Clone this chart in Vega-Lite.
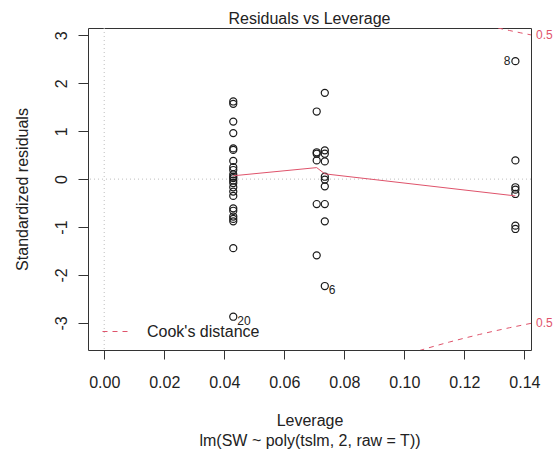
{
  "$schema": "https://vega.github.io/schema/vega-lite/v6.json",
  "autosize": {"type": "none"},
  "padding": {"left": 88, "top": 28, "right": 28, "bottom": 102},
  "width": 443,
  "height": 322,
  "background": "white",
  "title": {"text": "Residuals vs Leverage", "fontSize": 16, "fontWeight": "normal", "font": "Liberation Sans", "color": "#222222", "baseline": "alphabetic", "offset": 6, "dy": 18, "anchor": "middle", "frame": "group"},
  "config": {
    "view": {"stroke": "#333333", "strokeWidth": 1},
    "font": "Liberation Sans"
  },
  "datasets": {
    "pts": [
      {"lev": 0.0430, "res": 1.62}, {"lev": 0.0430, "res": 1.57}, {"lev": 0.0430, "res": 1.20}, {"lev": 0.0430, "res": 0.96},
      {"lev": 0.0430, "res": 0.64}, {"lev": 0.0430, "res": 0.61}, {"lev": 0.0430, "res": 0.38}, {"lev": 0.0430, "res": 0.25},
      {"lev": 0.0430, "res": 0.19}, {"lev": 0.0430, "res": 0.10}, {"lev": 0.0430, "res": 0.05}, {"lev": 0.0430, "res": 0.02},
      {"lev": 0.0430, "res": -0.03}, {"lev": 0.0430, "res": -0.08}, {"lev": 0.0430, "res": -0.17}, {"lev": 0.0430, "res": -0.26},
      {"lev": 0.0430, "res": -0.35}, {"lev": 0.0430, "res": -0.61}, {"lev": 0.0430, "res": -0.66}, {"lev": 0.0430, "res": -0.78},
      {"lev": 0.0430, "res": -0.83}, {"lev": 0.0430, "res": -0.88}, {"lev": 0.0430, "res": -1.44}, {"lev": 0.0430, "res": -2.87, "lab": "20", "side": "right"},
      {"lev": 0.0708, "res": 1.41}, {"lev": 0.0708, "res": 0.56}, {"lev": 0.0708, "res": 0.53}, {"lev": 0.0708, "res": 0.39},
      {"lev": 0.0708, "res": -0.52}, {"lev": 0.0708, "res": -1.59},
      {"lev": 0.0735, "res": 1.80}, {"lev": 0.0735, "res": 0.60}, {"lev": 0.0735, "res": 0.53}, {"lev": 0.0735, "res": 0.37},
      {"lev": 0.0735, "res": 0.05}, {"lev": 0.0735, "res": -0.01}, {"lev": 0.0735, "res": -0.15}, {"lev": 0.0735, "res": -0.52},
      {"lev": 0.0735, "res": -0.88}, {"lev": 0.0735, "res": -2.23, "lab": "6", "side": "right"},
      {"lev": 0.1370, "res": 2.46, "lab": "8", "side": "left"}, {"lev": 0.1370, "res": 0.39}, {"lev": 0.1370, "res": -0.17},
      {"lev": 0.1370, "res": -0.22}, {"lev": 0.1370, "res": -0.31}, {"lev": 0.1370, "res": -0.97}, {"lev": 0.1370, "res": -1.04}
    ],
    "smooth": [
      {"lev": 0.0430, "res": 0.07}, {"lev": 0.0708, "res": 0.24}, {"lev": 0.0735, "res": 0.11}, {"lev": 0.1370, "res": -0.35}
    ],
    "cook": [
      {"series": "Cook's distance", "branch": "upper", "lev": 0.128, "res": 3.197},
      {"series": "Cook's distance", "branch": "upper", "lev": 0.1306, "res": 3.160},
      {"series": "Cook's distance", "branch": "upper", "lev": 0.135, "res": 3.100},
      {"series": "Cook's distance", "branch": "upper", "lev": 0.1386, "res": 3.053},
      {"series": "Cook's distance", "branch": "upper", "lev": 0.1422, "res": 3.008},
      {"series": "Cook's distance", "branch": "lower", "lev": 0.105, "res": -3.576},
      {"series": "Cook's distance", "branch": "lower", "lev": 0.110, "res": -3.484},
      {"series": "Cook's distance", "branch": "lower", "lev": 0.115, "res": -3.398},
      {"series": "Cook's distance", "branch": "lower", "lev": 0.120, "res": -3.317},
      {"series": "Cook's distance", "branch": "lower", "lev": 0.125, "res": -3.240},
      {"series": "Cook's distance", "branch": "lower", "lev": 0.130, "res": -3.168},
      {"series": "Cook's distance", "branch": "lower", "lev": 0.135, "res": -3.100},
      {"series": "Cook's distance", "branch": "lower", "lev": 0.1422, "res": -3.008}
    ],
    "cooklab": [
      {"lev": 0.1422, "res": 3.008, "t": "0.5"},
      {"lev": 0.1422, "res": -3.008, "t": "0.5"}
    ]
  },
  "layer": [
    {
      "data": {"values": [{"lev": 0}]},
      "mark": {"type": "rule", "color": "#BEBEBE", "strokeDash": [1, 3], "strokeWidth": 1},
      "encoding": {"x": {"field": "lev", "type": "quantitative"}}
    },
    {
      "data": {"values": [{"res": 0}]},
      "mark": {"type": "rule", "color": "#BEBEBE", "strokeDash": [1, 3], "strokeWidth": 1},
      "encoding": {"y": {"field": "res", "type": "quantitative"}}
    },
    {
      "data": {"name": "pts"},
      "mark": {"type": "point", "shape": "circle", "filled": false, "size": 50, "strokeWidth": 1.2, "color": "#1a1a1a", "opacity": 1},
      "encoding": {
        "x": {
          "field": "lev", "type": "quantitative",
          "scale": {"domain": [-0.0054, 0.1422], "nice": false, "zero": false},
          "axis": {
            "values": [0, 0.02, 0.04, 0.06, 0.08, 0.1, 0.12, 0.14], "format": ".2f",
            "domain": false, "grid": false, "tickSize": 9, "tickColor": "#333333",
            "labelFontSize": 16, "labelColor": "#222222", "labelPadding": 15, "labelBaseline": "top",
            "labelFlush": false, "labelOverlap": false,
            "title": ["Leverage", "lm(SW ~ poly(tslm, 2, raw = T))"],
            "titleFontSize": 16, "titleFontWeight": "normal", "titleColor": "#222222",
            "titleLineHeight": 20, "titleBaseline": "top", "titleY": 62, "titleAlign": "center"
          }
        },
        "y": {
          "field": "res", "type": "quantitative",
          "scale": {"domain": [-3.564, 3.152], "nice": false, "zero": false},
          "axis": {
            "values": [-3, -2, -1, 0, 1, 2, 3], "labelExpr": "'' + datum.value",
            "domain": false, "grid": false, "tickSize": 10, "tickColor": "#333333",
            "labelFontSize": 16, "labelColor": "#222222", "labelPadding": 12,
            "labelAngle": 270, "labelAlign": "center", "labelBaseline": "alphabetic",
            "labelFlush": false, "labelOverlap": false,
            "title": "Standardized residuals",
            "titleFontSize": 16, "titleFontWeight": "normal", "titleColor": "#222222",
            "titleX": -61, "titleY": 161, "titleAngle": 270, "titleAlign": "center", "titleBaseline": "alphabetic"
          }
        }
      }
    },
    {
      "data": {"name": "smooth"},
      "mark": {"type": "line", "color": "#DF536B", "strokeWidth": 1},
      "encoding": {
        "x": {"field": "lev", "type": "quantitative"},
        "y": {"field": "res", "type": "quantitative"}
      }
    },
    {
      "data": {"name": "cook"},
      "mark": {"type": "line", "strokeWidth": 1, "strokeDash": [5, 5], "clip": true},
      "encoding": {
        "x": {"field": "lev", "type": "quantitative"},
        "y": {"field": "res", "type": "quantitative"},
        "detail": {"field": "branch"},
        "color": {
          "field": "series", "type": "nominal",
          "scale": {"domain": ["Cook's distance"], "range": ["#DF536B"]},
          "legend": {
            "title": null, "orient": "none", "legendX": 14, "legendY": 289, "padding": 0,
            "symbolType": "stroke", "symbolSize": 784, "symbolStrokeWidth": 1, "symbolDash": [5, 5],
            "labelFontSize": 16, "labelColor": "#222222", "labelOffset": 16, "labelFont": "Liberation Sans"
          }
        }
      }
    },
    {
      "data": {"name": "cooklab"},
      "mark": {"type": "text", "align": "left", "baseline": "middle", "dx": 5, "fontSize": 12, "color": "#DF536B"},
      "encoding": {
        "x": {"field": "lev", "type": "quantitative"},
        "y": {"field": "res", "type": "quantitative"},
        "text": {"field": "t"}
      }
    },
    {
      "data": {"name": "pts"},
      "transform": [{"filter": "datum.side === 'right'"}],
      "mark": {"type": "text", "align": "left", "baseline": "middle", "dx": 4, "dy": 4, "fontSize": 12, "color": "#222222"},
      "encoding": {
        "x": {"field": "lev", "type": "quantitative"},
        "y": {"field": "res", "type": "quantitative"},
        "text": {"field": "lab"}
      }
    },
    {
      "data": {"name": "pts"},
      "transform": [{"filter": "datum.side === 'left'"}],
      "mark": {"type": "text", "align": "right", "baseline": "middle", "dx": -5, "dy": 0, "fontSize": 12, "color": "#222222"},
      "encoding": {
        "x": {"field": "lev", "type": "quantitative"},
        "y": {"field": "res", "type": "quantitative"},
        "text": {"field": "lab"}
      }
    }
  ]
}
